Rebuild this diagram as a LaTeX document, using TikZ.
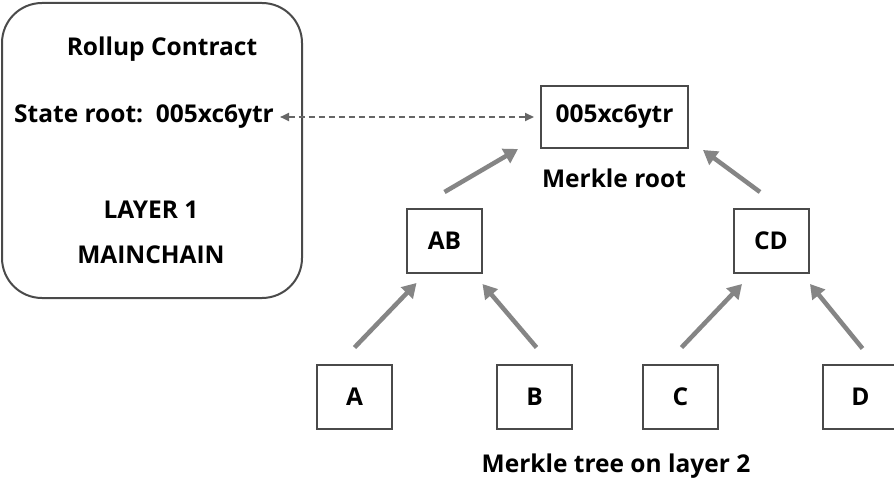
\documentclass[tikz,border=0pt]{standalone}
\usepackage{fontspec}
\setmainfont{Open Sans}[BoldFont={* Bold}]
\usetikzlibrary{arrows.meta,calc}
\definecolor{edgegray}{HTML}{4A4A4A}
\definecolor{arrowgray}{HTML}{858585}
\definecolor{dashgray}{HTML}{666666}
\begin{document}
\begin{tikzpicture}[x=1pt,y=-1pt,
  txt/.style={font=\fontsize{24.5}{29}\selectfont\bfseries, inner sep=0pt, text=black},
  leaf/.style={draw=edgegray, line width=2pt, minimum width=75pt, minimum height=64pt, inner sep=0pt, font=\fontsize{24.5}{29}\selectfont\bfseries},
  uparrow/.style={draw=arrowgray, line width=4.5pt, -{Triangle[length=14pt,width=16pt]}},
  link/.style={draw=dashgray, line width=1.8pt, dash pattern=on 6pt off 4pt, {Triangle[length=9pt,width=8pt]}-{Triangle[length=9pt,width=8pt]}}]
\clip (0,0) rectangle (894,484);
\fill[white] (0,0) rectangle (894,484);

% layer-1 contract panel
\draw[edgegray, line width=2pt, rounded corners=40pt] (2,3) rectangle (302,298);
\node[txt] (title) at (162,49) {Rollup Contract};
\node[txt, anchor=west] (state) at (14,117) {State root:\ \ 005xc6ytr};
\node[txt] (layer) at (151,210) {LAYER 1};
\node[txt] (main) at (151,255) {MAINCHAIN};

% merkle tree
\node[leaf, minimum width=147pt, minimum height=62pt] (root) at (614.5,117) {005xc6ytr};
\node[txt] (rootlbl) at (614,178) {Merkle root};
\node[leaf] (AB) at (444.5,241) {AB};
\node[leaf] (CD) at (771,241) {CD};
\node[leaf] (A) at (354.5,396.5) {A};
\node[leaf] (B) at (534.5,396.5) {B};
\node[leaf] (C) at (680.5,396.5) {C};
\node[leaf] (D) at (860.5,396.5) {D};
\node[txt] (treelbl) at (616,466) {Merkle tree on layer 2};

% link between contract and tree root
\draw[link] ($(state.east)+(6,0)$) -- ($(root.west)+(-6,0)$);

% hashing arrows
\coordinate (abs) at ($(AB.north)+(0,-16)$);
\coordinate (abe) at ($(root.south west)+(-22,0)$);
\coordinate (cds) at ($(CD.north)+(-11,-16)$);
\coordinate (cde) at ($(root.south east)+(14,1)$);
\coordinate (as) at ($(A.north)+(0,-16)$);
\coordinate (ae) at ($(AB.south)+(-28,9)$);
\coordinate (bs) at ($(B.north)+(2,-16)$);
\coordinate (be) at ($(AB.south)+(38,10)$);
\coordinate (cs) at ($(C.north)+(1,-16)$);
\coordinate (ce) at ($(CD.south)+(-29,10)$);
\coordinate (ds) at ($(D.north)+(2,-15)$);
\coordinate (de) at ($(CD.south)+(39,10)$);
\draw[uparrow] (abs) -- (abe);
\draw[uparrow] (cds) -- (cde);
\draw[uparrow] (as) -- (ae);
\draw[uparrow] (bs) -- (be);
\draw[uparrow] (cs) -- (ce);
\draw[uparrow] (ds) -- (de);
\end{tikzpicture}
\end{document}
